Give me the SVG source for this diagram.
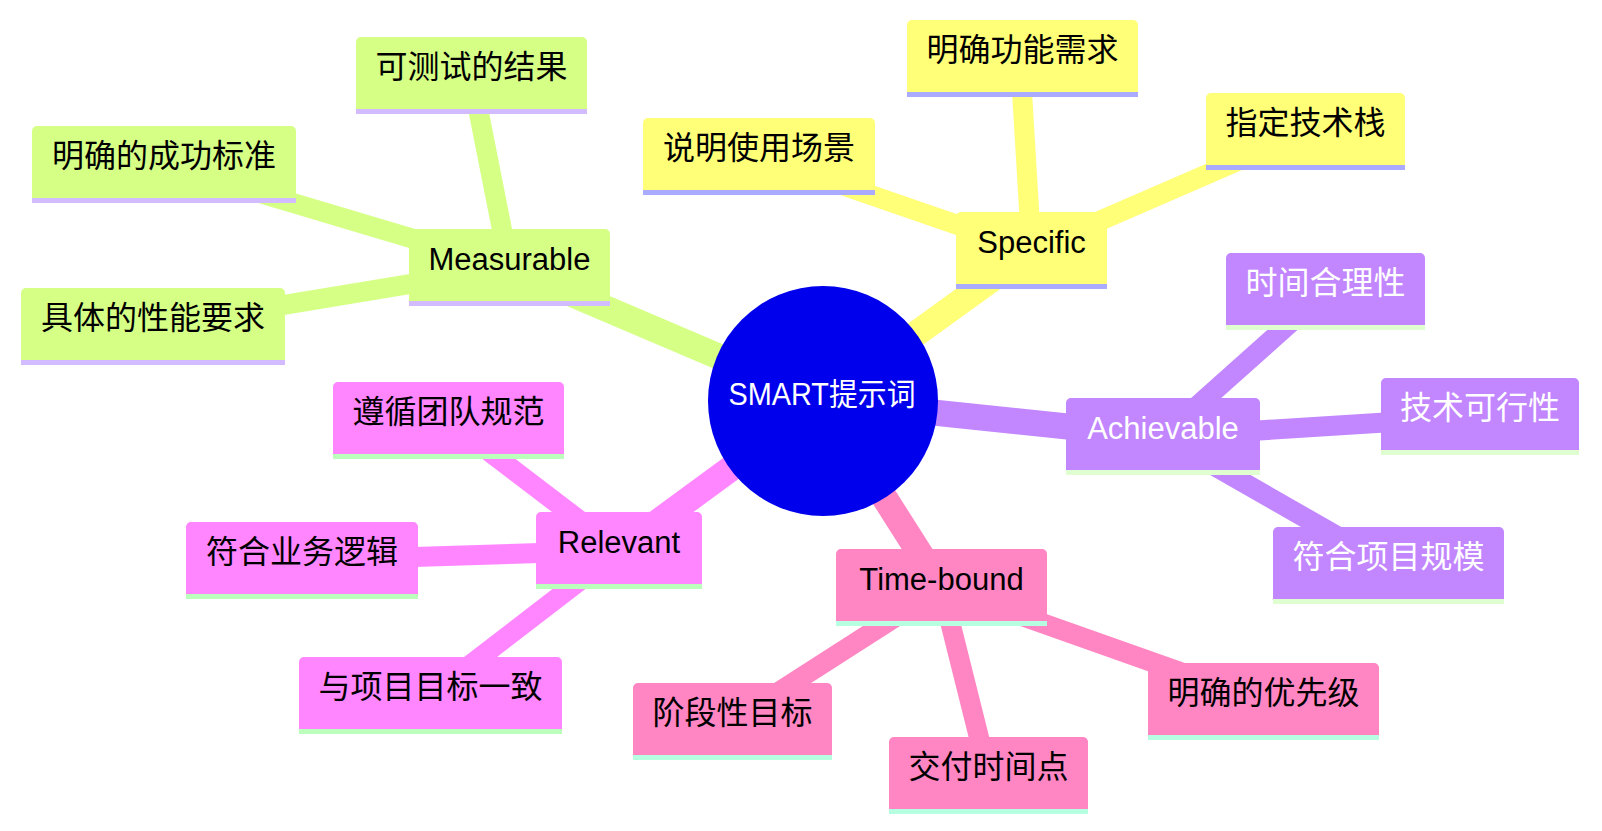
<svg xmlns="http://www.w3.org/2000/svg" width="1602" height="831" viewBox="0 0 1602 831">
<style>
text{font-family:"Liberation Sans","Noto Sans CJK SC",sans-serif;font-size:31px;text-anchor:middle;fill:#000}
text.zh{font-size:32px}
.e1{stroke-width:26;stroke-linecap:butt;fill:none}
.e2{stroke-width:20;stroke-linecap:butt;fill:none}
.s0 .f{fill:#ffff78}.s0 .l{fill:#aaaaff}.c0{stroke:#ffff78}
.s1 .f{fill:#d6ff86}.s1 .l{fill:#d2bcff}.c1{stroke:#d6ff86}
.s2 .f{fill:#c286ff}.s2 .l{fill:#e0ffd0}.c2{stroke:#c286ff}
.s3 .f{fill:#ff86ff}.s3 .l{fill:#bcffbc}.c3{stroke:#ff86ff}
.s4 .f{fill:#ff86c2}.s4 .l{fill:#b6ffe0}.c4{stroke:#ff86c2}
.s2 text,.root text{fill:#fff}
</style>
<g id="edges">
<line class="e1 c0" x1="823" y1="401" x2="1031.5" y2="250.5"/>
<line class="e1 c1" x1="823" y1="401" x2="509.5" y2="267.5"/>
<line class="e1 c2" x1="823" y1="401" x2="1163" y2="436.5"/>
<line class="e1 c3" x1="823" y1="401" x2="619" y2="550.5"/>
<line class="e1 c4" x1="823" y1="401" x2="941.5" y2="587.5"/>
<line class="e2 c0" x1="1031.5" y1="250.5" x2="759" y2="156.5"/>
<line class="e2 c0" x1="1031.5" y1="250.5" x2="1020" y2="58.5"/>
<line class="e2 c0" x1="1031.5" y1="250.5" x2="1305.5" y2="131.5"/>
<line class="e2 c1" x1="509.5" y1="267.5" x2="471.5" y2="75.5"/>
<line class="e2 c1" x1="509.5" y1="267.5" x2="164" y2="164.5"/>
<line class="e2 c1" x1="509.5" y1="267.5" x2="153" y2="326.5"/>
<line class="e2 c2" x1="1163" y1="436.5" x2="1325.5" y2="291.5"/>
<line class="e2 c2" x1="1163" y1="436.5" x2="1480" y2="416.5"/>
<line class="e2 c2" x1="1163" y1="436.5" x2="1388.5" y2="565.5"/>
<line class="e2 c3" x1="619" y1="550.5" x2="448.5" y2="420.5"/>
<line class="e2 c3" x1="619" y1="550.5" x2="302" y2="560.5"/>
<line class="e2 c3" x1="619" y1="550.5" x2="430.5" y2="695.5"/>
<line class="e2 c4" x1="941.5" y1="587.5" x2="732.5" y2="721.5"/>
<line class="e2 c4" x1="941.5" y1="587.5" x2="988.5" y2="775.5"/>
<line class="e2 c4" x1="941.5" y1="587.5" x2="1263.5" y2="701.5"/>
</g>
<g id="root" class="root"><circle cx="823" cy="401" r="115" fill="#0000ec"/><text x="822" y="405" textLength="187" lengthAdjust="spacingAndGlyphs">SMART提示词</text></g>
<g id="specific" class="s0"><rect class="f" x="956" y="212" width="151" height="77" rx="5"/><rect class="l" x="956" y="284" width="151" height="5"/><text x="1031.5" y="253">Specific</text></g>
<g id="s-scene" class="s0"><rect class="f" x="643" y="118" width="232" height="77" rx="5"/><rect class="l" x="643" y="190" width="232" height="5"/><text class="zh" x="759" y="159">说明使用场景</text></g>
<g id="s-func" class="s0"><rect class="f" x="907" y="20" width="231" height="77" rx="5"/><rect class="l" x="907" y="92" width="231" height="5"/><text class="zh" x="1022.5" y="61">明确功能需求</text></g>
<g id="s-stack" class="s0"><rect class="f" x="1206" y="93" width="199" height="77" rx="5"/><rect class="l" x="1206" y="165" width="199" height="5"/><text class="zh" x="1305.5" y="134">指定技术栈</text></g>
<g id="measurable" class="s1"><rect class="f" x="409" y="229" width="201" height="77" rx="5"/><rect class="l" x="409" y="301" width="201" height="5"/><text x="509.5" y="270">Measurable</text></g>
<g id="m-test" class="s1"><rect class="f" x="356" y="37" width="231" height="77" rx="5"/><rect class="l" x="356" y="109" width="231" height="5"/><text class="zh" x="471.5" y="78">可测试的结果</text></g>
<g id="m-criteria" class="s1"><rect class="f" x="32" y="126" width="264" height="77" rx="5"/><rect class="l" x="32" y="198" width="264" height="5"/><text class="zh" x="164" y="167">明确的成功标准</text></g>
<g id="m-perf" class="s1"><rect class="f" x="21" y="288" width="264" height="77" rx="5"/><rect class="l" x="21" y="360" width="264" height="5"/><text class="zh" x="153" y="329">具体的性能要求</text></g>
<g id="achievable" class="s2"><rect class="f" x="1066" y="398" width="194" height="77" rx="5"/><rect class="l" x="1066" y="470" width="194" height="5"/><text x="1163" y="439">Achievable</text></g>
<g id="a-time" class="s2"><rect class="f" x="1226" y="253" width="199" height="77" rx="5"/><rect class="l" x="1226" y="325" width="199" height="5"/><text class="zh" x="1325.5" y="294">时间合理性</text></g>
<g id="a-tech" class="s2"><rect class="f" x="1381" y="378" width="198" height="77" rx="5"/><rect class="l" x="1381" y="450" width="198" height="5"/><text class="zh" x="1480" y="419">技术可行性</text></g>
<g id="a-scale" class="s2"><rect class="f" x="1273" y="527" width="231" height="77" rx="5"/><rect class="l" x="1273" y="599" width="231" height="5"/><text class="zh" x="1388.5" y="568">符合项目规模</text></g>
<g id="relevant" class="s3"><rect class="f" x="536" y="512" width="166" height="77" rx="5"/><rect class="l" x="536" y="584" width="166" height="5"/><text x="619" y="553">Relevant</text></g>
<g id="r-team" class="s3"><rect class="f" x="333" y="382" width="231" height="77" rx="5"/><rect class="l" x="333" y="454" width="231" height="5"/><text class="zh" x="448.5" y="423">遵循团队规范</text></g>
<g id="r-logic" class="s3"><rect class="f" x="186" y="522" width="232" height="77" rx="5"/><rect class="l" x="186" y="594" width="232" height="5"/><text class="zh" x="302" y="563">符合业务逻辑</text></g>
<g id="r-goal" class="s3"><rect class="f" x="299" y="657" width="263" height="77" rx="5"/><rect class="l" x="299" y="729" width="263" height="5"/><text class="zh" x="430.5" y="698">与项目目标一致</text></g>
<g id="timebound" class="s4"><rect class="f" x="836" y="549" width="211" height="77" rx="5"/><rect class="l" x="836" y="621" width="211" height="5"/><text x="941.5" y="590">Time-bound</text></g>
<g id="t-stage" class="s4"><rect class="f" x="633" y="683" width="199" height="77" rx="5"/><rect class="l" x="633" y="755" width="199" height="5"/><text class="zh" x="732.5" y="724">阶段性目标</text></g>
<g id="t-deliver" class="s4"><rect class="f" x="889" y="737" width="199" height="77" rx="5"/><rect class="l" x="889" y="809" width="199" height="5"/><text class="zh" x="988.5" y="778">交付时间点</text></g>
<g id="t-priority" class="s4"><rect class="f" x="1148" y="663" width="231" height="77" rx="5"/><rect class="l" x="1148" y="735" width="231" height="5"/><text class="zh" x="1263.5" y="704">明确的优先级</text></g>
</svg>
